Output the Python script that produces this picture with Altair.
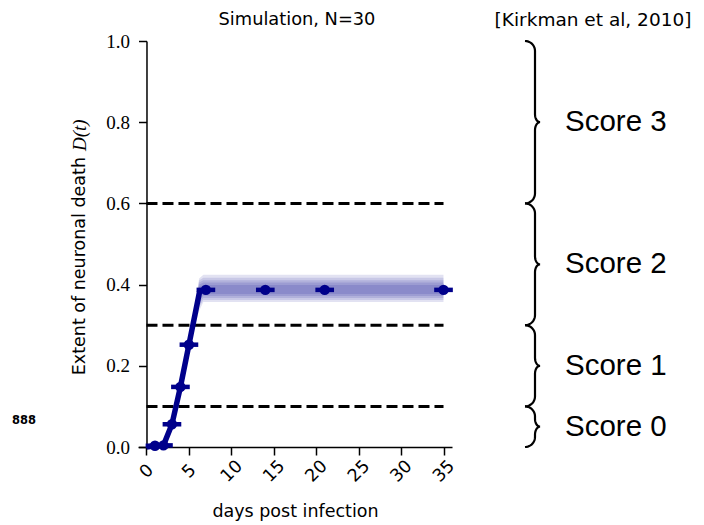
import altair as alt
import pandas as pd
import numpy as np

NAVY = "#00008B"

# ---- data ----
trace_days = [0, 1, 2, 3, 4, 5, 6.3]
trace_vals = [0.0, 0.003, 0.004, 0.056, 0.148, 0.252, 0.387]

mark_days = [1, 2, 3, 4, 5, 7, 14, 21, 35]
mark_vals = [0.003, 0.004, 0.056, 0.148, 0.252, 0.387, 0.387, 0.387, 0.387]
mark_xerr = [1.1, 1.1, 1.1, 1.1, 1.1, 1.1, 1.1, 1.1, 1.1]

band_days = [5.0, 6.2, 6.7, 35.0]
band_lo = [
    [0.250, 0.335, 0.357, 0.357],
    [0.250, 0.345, 0.362, 0.362],
    [0.251, 0.355, 0.367, 0.367],
    [0.251, 0.362, 0.372, 0.372],
    [0.252, 0.370, 0.377, 0.377],
]
band_hi = [
    [0.256, 0.415, 0.424, 0.424],
    [0.255, 0.410, 0.417, 0.417],
    [0.254, 0.405, 0.411, 0.411],
    [0.254, 0.400, 0.405, 0.405],
    [0.253, 0.395, 0.399, 0.399],
]

thresholds = [0.1, 0.3, 0.6]
threshold_span = [0, 35]

score_bounds = [0.0, 0.1, 0.3, 0.6, 1.0]
score_labels = ["Score 0", "Score 1", "Score 2", "Score 3"]

x_ticks = [0, 5, 10, 15, 20, 25, 30, 35]
y_ticks = [0.0, 0.2, 0.4, 0.6, 0.8, 1.0]

# ---- layout ----
W, H = 314, 406
X_DOMAIN = [-1, 36]
px_per_day = W / (X_DOMAIN[1] - X_DOMAIN[0])

xs = alt.Scale(domain=X_DOMAIN, nice=False, zero=False)
ys = alt.Scale(domain=[0, 1], nice=False, zero=False)

x_axis = alt.Axis(values=x_ticks, labelAngle=-45, labelAlign="center", labelBaseline="middle",
                  labelPadding=16, tickSize=8, tickWidth=1.5, tickColor="black",
                  domainWidth=1.5, domainColor="black", labelColor="black",
                  labelFont="DejaVu Sans", labelFontSize=17.5, grid=False,
                  title="days post infection", titleFont="DejaVu Sans", titleFontSize=17.5,
                  titleFontWeight="normal", titleColor="black", titleY=64,
                  titleBaseline="middle")
y_axis = alt.Axis(values=y_ticks, format=".1f", offset=-px_per_day, tickSize=8, tickWidth=1.5,
                  tickColor="black", domainWidth=1.5, domainColor="black", labelColor="black",
                  labelFont="Liberation Serif", labelFontSize=19, labelPadding=9,
                  grid=False, title=None)

# bands
rows = []
for k, (lo, hi) in enumerate(zip(band_lo, band_hi)):
    for d, l, h in zip(band_days, lo, hi):
        rows.append({"layer": k, "day": d, "lo": l, "hi": h})
band_df = pd.DataFrame(rows)

bands = alt.Chart(band_df).mark_area(color=NAVY, opacity=0.115).encode(
    x=alt.X("day:Q", scale=xs, axis=x_axis),
    y=alt.Y("lo:Q", scale=ys, axis=y_axis),
    y2="hi:Q",
    detail="layer:N",
)

dash_df = pd.DataFrame({"y": thresholds, "x0": [threshold_span[0]] * 3, "x1": [threshold_span[1]] * 3})
dashes = alt.Chart(dash_df).mark_rule(color="black", strokeWidth=3, strokeDash=[11, 5]).encode(
    x=alt.X("x0:Q", scale=xs), x2="x1:Q", y=alt.Y("y:Q", scale=ys)
)

trace_df = pd.DataFrame({"day": trace_days, "v": trace_vals})
trace = alt.Chart(trace_df).mark_line(color=NAVY, strokeWidth=5.5, strokeJoin="round").encode(
    x=alt.X("day:Q", scale=xs), y=alt.Y("v:Q", scale=ys)
)

m_df = pd.DataFrame({"day": mark_days, "v": mark_vals, "e": mark_xerr})
m_df["lo"] = m_df["day"] - m_df["e"]
m_df["hi"] = m_df["day"] + m_df["e"]
errbars = alt.Chart(m_df).mark_rule(color=NAVY, strokeWidth=4.5).encode(
    x=alt.X("lo:Q", scale=xs), x2="hi:Q", y=alt.Y("v:Q", scale=ys)
)
markers = alt.Chart(m_df).mark_point(filled=True, shape="circle", size=110, color=NAVY, opacity=1).encode(
    x=alt.X("day:Q", scale=xs), y=alt.Y("v:Q", scale=ys)
)

# curly braces on the right (geometry derived from score bounds)
x_stem = X_DOMAIN[0] + 397 / px_per_day
dx_end = -10 / px_per_day
dx_tip = 5 / px_per_day
r_end = 10 / H
r_tip = 8 / H
brows = []
for b, (a, c) in enumerate(zip(score_bounds[:-1], score_bounds[1:])):
    mid = (a + c) / 2
    pts = []
    th = np.linspace(0, np.pi / 2, 12)
    for t in th:
        pts.append((x_stem + dx_end * (1 - np.sin(t)), c - r_end * (1 - np.cos(t))))
    for t in th:
        pts.append((x_stem + dx_tip * (1 - np.cos(t)), mid + r_tip * (1 - np.sin(t))))
    for t in th[::-1]:
        pts.append((x_stem + dx_tip * (1 - np.cos(t)), mid - r_tip * (1 - np.sin(t))))
    for t in th[::-1]:
        pts.append((x_stem + dx_end * (1 - np.sin(t)), a + r_end * (1 - np.cos(t))))
    for i, (px, py) in enumerate(pts):
        brows.append({"b": b, "i": i, "x": px, "y": py})
brace_df = pd.DataFrame(brows)
braces = alt.Chart(brace_df).mark_line(color="black", strokeWidth=2.2, clip=False).encode(
    x=alt.X("x:Q", scale=xs), y=alt.Y("y:Q", scale=ys), order="i:Q", detail="b:N"
)

score_df = pd.DataFrame({"label": score_labels,
                         "y": [(a + c) / 2 for a, c in zip(score_bounds[:-1], score_bounds[1:])]})
scores = alt.Chart(score_df).mark_text(align="left", baseline="middle", font="Liberation Sans",
                                       fontSize=29.5, color="black").encode(
    x=alt.value(427), y=alt.Y("y:Q", scale=ys), text="label:N"
)


def label(text, x, y, **kw):
    df = pd.DataFrame({"t": [text]})
    return alt.Chart(df).mark_text(color="black", **kw).encode(
        x=alt.value(x), y=alt.value(y), text="t:N")


title_sim = label("Simulation, N=30", 159, -21, font="DejaVu Sans", fontSize=17.8,
                  align="center", baseline="middle")
title_ref = label("[Kirkman et al, 2010]", 455, -21, font="DejaVu Sans", fontSize=18.5,
                  align="center", baseline="middle")
ylab1 = label("Extent of neuronal death", -58, 116, font="DejaVu Sans", fontSize=17.5,
              align="right", baseline="middle", angle=270)
ylab2 = label("D(t)", -58, 110, font="Liberation Serif", fontSize=19, fontStyle="italic",
              align="left", baseline="middle", angle=270)
stray = label("888", -126, 380, font="DejaVu Sans", fontSize=11.5, fontWeight="bold",
              align="left", baseline="middle")

chart = alt.layer(
    bands, dashes, trace, errbars, markers, braces, scores,
    title_sim, title_ref, ylab1, ylab2, stray
).properties(
    width=W, height=H,
    autosize=alt.AutoSizeParams(type="none"),
    padding={"left": 130, "top": 33, "right": 244, "bottom": 78},
).configure_view(stroke=None).configure_axis(grid=False)

chart.save("out.html", embed_options={"renderer": "svg", "actions": False})
